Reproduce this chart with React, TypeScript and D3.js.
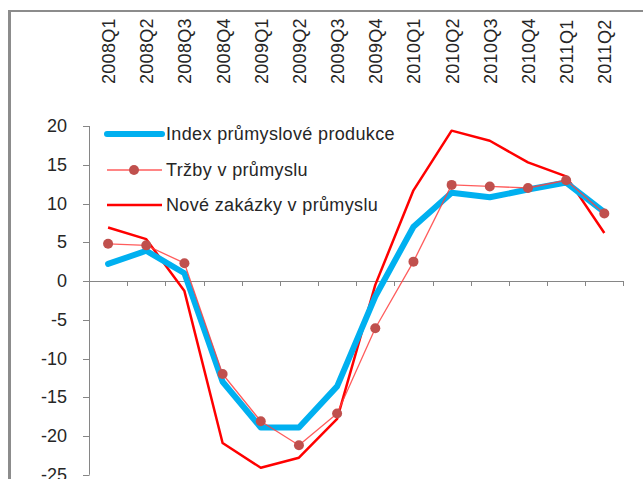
import React from "react";
import * as d3 from "d3";

const categories = ["2008Q1","2008Q2","2008Q3","2008Q4","2009Q1","2009Q2","2009Q3","2009Q4","2010Q1","2010Q2","2010Q3","2010Q4","2011Q1","2011Q2"];
const indexValues = [2.2, 3.9, 1.0, -13.0, -18.9, -18.9, -13.6, -2.0, 7.0, 11.4, 10.8, 11.8, 12.7, 8.9];
const trzbyValues = [4.8, 4.6, 2.3, -12.0, -18.1, -21.2, -17.1, -6.1, 2.5, 12.4, 12.2, 12.0, 13.0, 8.7];
const zakazkyValues = [6.9, 5.4, -1.3, -20.9, -24.1, -22.8, -17.8, -0.5, 11.7, 19.4, 18.1, 15.3, 13.5, 6.2];
const yTicks = [20, 15, 10, 5, 0, -5, -10, -15, -20, -25];
const legendLabels = ["Index průmyslové produkce", "Tržby v průmyslu", "Nové zakázky v průmyslu"];

const W = 643, H = 479;
const FONT = "'Liberation Sans', Arial, sans-serif";
const AXIS = "#868686";
const TEXT = "#262626";

export default function App() {
  const x = d3.scaleBand<string>().domain(categories).range([89, 623.4]).padding(0);
  const y = d3.scaleLinear().domain([-25, 20]).range([474.75, 126]);
  const cx = (c: string) => (x(c) as number) + x.bandwidth() / 2;

  const line = d3.line<number>()
    .x((_, i) => cx(categories[i]))
    .y((v) => y(v));

  const boundaries = d3.range(1, categories.length + 1).map((k) => 89 + x.bandwidth() * k);

  const legendY = [134, 170, 205];

  return (
    <svg width={W} height={H} style={{ position: "absolute", left: 0, top: 0, background: "#fff" }} fontFamily={FONT}>
      <rect x={0} y={0} width={W} height={H} fill="#fff" />
      {/* frame */}
      <line x1={9.5} y1={10} x2={9.5} y2={H} stroke="#8c8c8c" strokeWidth={3} />
      <line x1={8} y1={11} x2={W} y2={11} stroke="#8c8c8c" strokeWidth={2} />

      {/* category labels on top */}
      {categories.map((c) => (
        <text key={c} transform={`translate(${cx(c) + 1},84) rotate(-90)`} fontSize={18} fill={TEXT}
          dominantBaseline="central" textAnchor="start" letterSpacing={0.3}>{c}</text>
      ))}

      {/* y axis */}
      <line x1={89.5} y1={y(20)} x2={89.5} y2={y(-25)} stroke={AXIS} strokeWidth={1} />
      {yTicks.map((t) => (
        <g key={t}>
          <line x1={83} x2={89.5} y1={Math.round(y(t)) + 0.5} y2={Math.round(y(t)) + 0.5} stroke={AXIS} strokeWidth={1} />
          <text x={67} y={y(t)} fontSize={18} fill={TEXT} textAnchor="end" dominantBaseline="central">{t}</text>
        </g>
      ))}

      {/* x axis at zero */}
      <line x1={89} x2={623.4} y1={Math.round(y(0)) + 0.5} y2={Math.round(y(0)) + 0.5} stroke={AXIS} strokeWidth={1} />
      {boundaries.map((b, i) => (
        <line key={i} x1={Math.round(b) + 0.5} x2={Math.round(b) + 0.5} y1={y(0)} y2={y(0) + 5} stroke={AXIS} strokeWidth={1} />
      ))}

      {/* series */}
      <path d={line(zakazkyValues) || ""} fill="none" stroke="#FF0000" strokeWidth={2.5} strokeLinejoin="round" />
      <path d={line(indexValues) || ""} fill="none" stroke="#00B0F0" strokeWidth={6} strokeLinejoin="round" strokeLinecap="round" />
      <path d={line(trzbyValues) || ""} fill="none" stroke="#FF4040" strokeOpacity={0.85} strokeWidth={1.3} strokeLinejoin="round" />
      {trzbyValues.map((v, i) => (
        <circle key={i} cx={cx(categories[i])} cy={y(v)} r={5} fill="#C0504D" />
      ))}

      {/* legend */}
      <line x1={107} x2={162} y1={legendY[0]} y2={legendY[0]} stroke="#00B0F0" strokeWidth={6} strokeLinecap="round" />
      <line x1={107} x2={162} y1={legendY[1]} y2={legendY[1]} stroke="#FF4040" strokeOpacity={0.85} strokeWidth={1.3} />
      <circle cx={134} cy={legendY[1]} r={5} fill="#C0504D" />
      <line x1={107} x2={162} y1={legendY[2]} y2={legendY[2]} stroke="#FF0000" strokeWidth={2.5} />
      {legendLabels.map((l, i) => (
        <text key={l} x={166} y={legendY[i]} fontSize={18} fill={TEXT} dominantBaseline="central" letterSpacing={0.35}>{l}</text>
      ))}
    </svg>
  );
}
